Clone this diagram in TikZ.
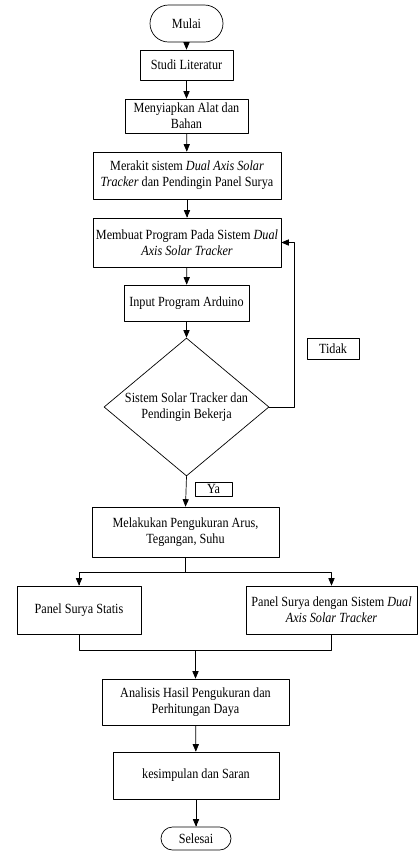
\documentclass[tikz,border=0pt]{standalone}
\usepackage{fontspec}
\setmainfont{Liberation Serif}[FakeStretch=0.87]
\usetikzlibrary{arrows}
\usetikzlibrary{positioning}
\usetikzlibrary{shapes.geometric,shapes.misc}

\begin{document}
\begin{tikzpicture}[line cap=round,line join=round,>=triangle 45,x=1pt,y=-1pt,
  every node/.style={font=\fontsize{14}{16}\selectfont,align=center,inner sep=1pt},
  kotak/.style={draw,line width=0.7pt,rectangle},
  ujung/.style={draw,line width=0.7pt,rounded rectangle},
  putusan/.style={draw,line width=0.7pt,diamond,aspect=1.2,inner sep=0pt},
  garis/.style={line width=0.7pt}]
\useasboundingbox (0,0) rectangle (418,852);
% alur utama
\node [ujung,minimum width=75pt,minimum height=37pt] (mulai) at (186.5,23.5) {Mulai};
\node [kotak,minimum width=93pt,minimum height=30pt] (studi) at (186.5,65) {Studi Literatur};
\node [kotak,minimum width=123pt,minimum height=34pt] (siap) at (186.5,116) {Menyiapkan Alat dan\\Bahan};
\node [kotak,minimum width=188pt,minimum height=47pt] (rakit) at (187,175.5) {Merakit sistem \textit{Dual Axis Solar}\\\textit{Tracker} dan Pendingin Panel Surya};
\node [kotak,minimum width=188pt,minimum height=49pt] (program) at (187,242.5) {Membuat Program Pada Sistem \textit{Dual}\\\textit{Axis Solar Tracker}};
\node [kotak,minimum width=125pt,minimum height=36pt] (input) at (186.5,303) {Input Program Arduino};
\node [putusan,minimum width=165pt,minimum height=138pt] (cek) at (186.5,407) {Sistem Solar Tracker dan\\Pendingin Bekerja};
\node [kotak,minimum width=52pt,minimum height=21pt] (tidak) at (333,348.5) {Tidak};
\node [kotak,minimum width=37pt,minimum height=14pt,inner sep=0pt] (ya) at (213.5,489) {Ya};
\node [kotak,minimum width=187pt,minimum height=50pt] (ukur) at (185.5,532) {Melakukan Pengukuran Arus,\\Tegangan, Suhu};
\node [kotak,minimum width=124pt,minimum height=48pt] (statis) at (79,610) {Panel Surya Statis};
\node [kotak,minimum width=171pt,minimum height=48pt] (dual) at (331.5,610) {Panel Surya dengan Sistem \textit{Dual}\\\textit{Axis Solar Tracker}};
\node [kotak,minimum width=187pt,minimum height=46pt] (analisis) at (195.5,702) {Analisis Hasil Pengukuran dan\\Perhitungan Daya};
\node [kotak,minimum width=166pt,minimum height=47pt] (simpul) at (196,775.5) {kesimpulan dan Saran};
\node [ujung,minimum width=72pt,minimum height=23pt] (selesai) at (196,838.5) {Selesai};
% titik bantu
\coordinate (balik) at (294,407);
\coordinate [below=15pt of ukur] (bagi);
\coordinate [below=16pt of statis] (gabung);
% panah
\draw [garis,->] (mulai) -- (studi);
\draw [garis,->] (studi) -- (siap);
\draw [garis,->] (siap) -- (rakit);
\draw [garis,->] (rakit) -- (program);
\draw [garis,->] (program) -- (input);
\draw [garis,->] (input) -- (cek);
\draw [garis,->] (cek.east) -- (balik) |- (program.east);
\draw [garis,->] (cek.south) -- (ukur.north);
\draw [garis] (ukur.south) -- (bagi);
\draw [garis,->] (bagi) -| (statis.north);
\draw [garis,->] (bagi) -| (dual.north);
\draw [garis] (statis.south) -- (gabung) -| (dual.south);
\draw [garis,->] (analisis.north |- gabung) -- (analisis.north);
\draw [garis,->] (analisis) -- (simpul);
\draw [garis,->] (simpul) -- (selesai);
\end{tikzpicture}
\end{document}
